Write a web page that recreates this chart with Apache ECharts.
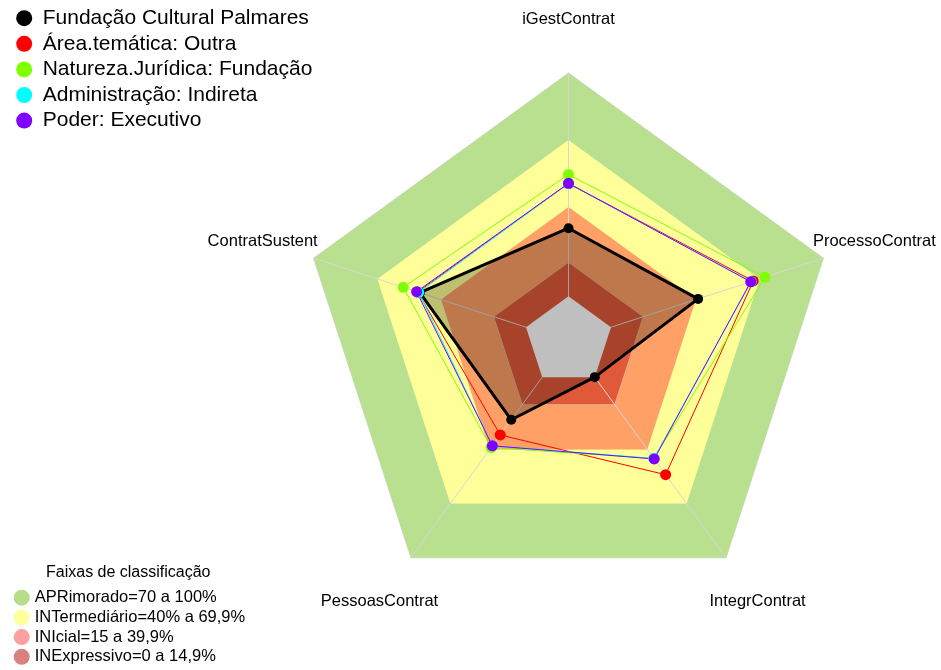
<!DOCTYPE html>
<html>
<head>
<meta charset="utf-8">
<style>
  html, body { margin: 0; padding: 0; background: #fff; }
  #chart { width: 941px; height: 670px; }
</style>
<script src="https://cdn.jsdelivr.net/npm/echarts@6/dist/echarts.min.js"></script>
</head>
<body>
<div id="chart"></div>
<script>
// Indicators, listed clockwise from the top
const categories = ['iGestContrat', 'ProcessoContrat', 'IntegrContrat', 'PessoasContrat', 'ContratSustent'];

// Scores (%) per indicator, same order as categories
const palmares  = [30.5, 41, 0, 23.6, 50];
const areaOutra = [50.5, 67, 54, 32, 51];
const fundacao  = [54.6, 72.5, 45, 39, 57.8];
const indireta  = [50.5, 66, 45, 38, 50.5];
const executivo = [50.6, 65.8, 45.3, 38, 51.5];

const seriesNames = [
  'Fundação Cultural Palmares',
  'Área.temática: Outra',
  'Natureza.Jurídica: Fundação',
  'Administração: Indireta',
  'Poder: Executivo'
];
const seriesColors = ['#000000', '#FF0000', '#7FFF00', '#00FFFF', '#8000FF'];

// Classification bands: upper limit of each band
const bandNames  = ['APRimorado=70 a 100%', 'INTermediário=40% a 69,9%', 'INIcial=15 a 39,9%', 'INExpressivo=0 a 14,9%'];
const bandTops   = [100, 70, 40, 15];
const bandFills  = ['#B9E08F', '#FFFF99', '#FFA066', '#E05A3A'];
const bandLegend = ['#B5DD8A', '#FFFF9C', '#FFA0A0', '#D98080'];

const axisMin = -20, axisMax = 100;
const FONT = '"Liberation Sans", Arial, sans-serif';

// ECharts lays radar indicators out counter-clockwise; reorder to keep them clockwise
const ccwOrder = [0, 4, 3, 2, 1];
const ccw = arr => ccwOrder.map(i => arr[i]);
const constant = v => categories.map(() => v);

const R = 268;

const chart = echarts.init(document.getElementById('chart'), null, { renderer: 'canvas' });

const dataSets = [palmares, areaOutra, fundacao, indireta, executivo];

const option = {
  backgroundColor: '#ffffff',
  animation: false,
  textStyle: { fontFamily: FONT },
  title: {
    text: 'Faixas de classificação',
    left: 41, top: 560,
    textStyle: { fontSize: 16, fontWeight: 'normal', color: '#000', fontFamily: FONT }
  },
  legend: [
    {
      orient: 'vertical', left: 16.2, top: 7.7, padding: 0,
      itemWidth: 27, itemHeight: 16, itemGap: 4.6,
      icon: 'circle',
      textStyle: { fontSize: 21, lineHeight: 21, color: '#000', fontFamily: FONT },
      selectedMode: false,
      data: seriesNames.map((n, i) => ({ name: n, itemStyle: { color: seriesColors[i] } }))
    },
    {
      orient: 'vertical', left: 13.7, top: 589.2, padding: 0, height: 80,
      itemWidth: 16, itemHeight: 16, itemGap: 2.7,
      icon: 'circle',
      textStyle: { fontSize: 16.5, lineHeight: 17, color: '#000', fontFamily: FONT },
      selectedMode: false,
      data: bandNames.map((n, i) => ({ name: n, itemStyle: { color: bandLegend[i] } }))
    }
  ],
  radar: {
    center: [568.5, 341],
    radius: R,
    startAngle: 90,
    shape: 'polygon',
    z: 2,
    nameGap: R * 0.2,
    axisName: { color: '#000', fontSize: 16.5, fontFamily: FONT, align: 'center', verticalAlign: 'middle' },
    indicator: ccw(categories).map(n => ({ name: n, min: axisMin, max: axisMax })),
    splitNumber: 5,
    axisLine: { lineStyle: { color: '#D6D6D6', width: 1 } },
    splitLine: { show: false },
    splitArea: { show: false },
    axisTick: { show: false },
    axisLabel: { show: false }
  },
  series: [
    {
      type: 'radar', z: 1, silent: true, symbol: 'none',
      data: bandNames.map((n, i) => ({
        name: n,
        value: ccw(constant(bandTops[i])),
        lineStyle: { width: (i === 0 || i === 3) ? 1 : 0, color: 'rgba(205,205,205,0.85)' },
        areaStyle: { color: bandFills[i], opacity: 1 }
      }))
    },
    {
      // empty centre below zero
      type: 'radar', z: 3, silent: true, symbol: 'none',
      data: [{
        name: 'centro',
        value: ccw(constant(0)),
        lineStyle: { width: 0 },
        areaStyle: { color: '#ffffff', opacity: 1 }
      }]
    }
  ].concat(dataSets.map((d, i) => ({
    type: 'radar', z: 4, silent: true,
    symbol: 'circle',
    symbolSize: i === 0 ? 10 : 11,
    data: [{
      name: seriesNames[i],
      value: ccw(d),
      itemStyle: { color: seriesColors[i] },
      lineStyle: { color: seriesColors[i], width: i === 0 ? 3 : 1 },
      areaStyle: i === 0 ? { color: 'rgba(0,0,0,0.25)', opacity: 1 } : undefined
    }]
  })))
};

chart.setOption(option);
</script>
</body>
</html>
